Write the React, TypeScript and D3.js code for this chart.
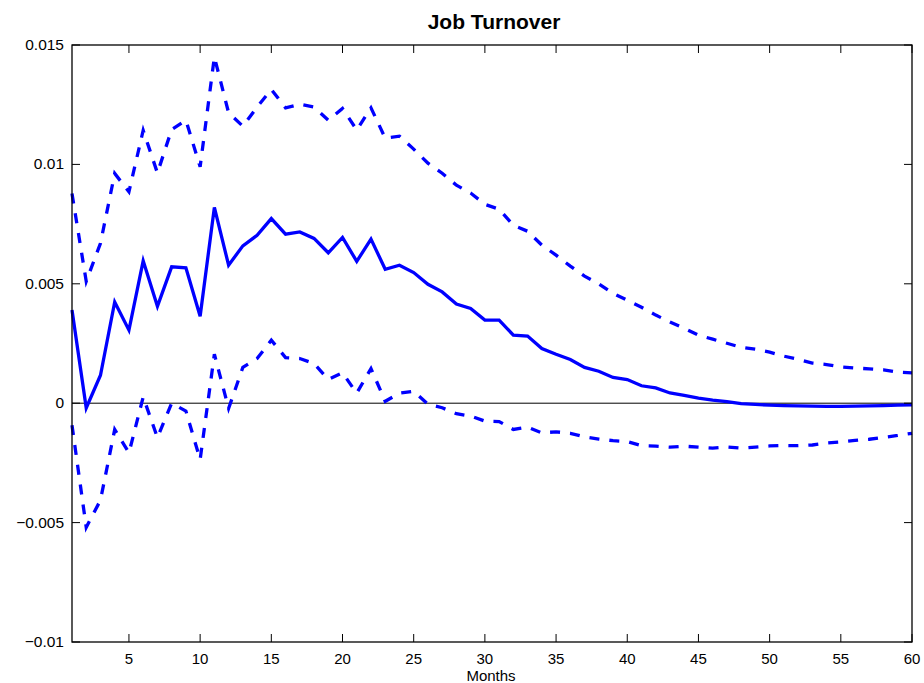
import React from "react";
import * as d3 from "d3";

// Impulse response of job turnover (months 1..60) with confidence bands
const months: number[] = Array.from({ length: 60 }, (_, i) => i + 1);

const response: number[] = [
  0.0039, -0.0002, 0.00117, 0.00424, 0.00306, 0.00596, 0.00406, 0.00571, 0.00567, 0.00364,
  0.0082, 0.00578, 0.00659, 0.00703, 0.00773, 0.00708, 0.00717, 0.0069, 0.0063, 0.00694,
  0.00594, 0.00687, 0.00561, 0.00578, 0.00547, 0.00498, 0.00466, 0.00415, 0.00397, 0.00348,
  0.00348, 0.00285, 0.00281, 0.00229, 0.00205, 0.00183, 0.0015, 0.00134, 0.00108, 0.00099,
  0.00073, 0.00064, 0.00043, 0.00033, 0.00021, 0.00013, 0.00007, -0.00002, -0.00005, -0.00008,
  -0.0001, -0.00011, -0.00012, -0.00013, -0.00013, -0.00012, -0.00011, -0.0001, -0.00008, -0.00007,
];

const upperBand: number[] = [
  0.00878, 0.0051, 0.0067, 0.00962, 0.00885, 0.01143, 0.00964, 0.01146, 0.01185, 0.0099,
  0.0145, 0.01216, 0.0116, 0.0124, 0.01314, 0.01237, 0.01252, 0.0124, 0.01185, 0.01234,
  0.01144, 0.01237, 0.0111, 0.01118, 0.01064, 0.01005, 0.00963, 0.00913, 0.0088, 0.00833,
  0.00812, 0.00745, 0.0072, 0.00662, 0.0062, 0.00574, 0.00532, 0.005, 0.0046, 0.00431,
  0.00402, 0.00369, 0.0034, 0.00314, 0.00285, 0.00268, 0.00251, 0.00234, 0.00226, 0.00214,
  0.00197, 0.00184, 0.00168, 0.00162, 0.00152, 0.00147, 0.00144, 0.0014, 0.0013, 0.00127,
];

const lowerBand: number[] = [
  -0.00092, -0.0052, -0.00406, -0.0011, -0.00208, 0.00026, -0.00144, 0.0, -0.00033, -0.00236,
  0.00205, -0.00022, 0.0015, 0.00187, 0.00264, 0.00191, 0.00187, 0.00166, 0.00099, 0.00127,
  0.00042, 0.00145, 0.00008, 0.00042, 0.0005, -0.00004, -0.00019, -0.00044, -0.00054, -0.00075,
  -0.00077, -0.0011, -0.001, -0.00124, -0.0012, -0.00126, -0.00141, -0.0015, -0.00157, -0.00161,
  -0.00178, -0.0018, -0.00184, -0.0018, -0.00184, -0.00188, -0.00183, -0.00188, -0.00184, -0.00179,
  -0.00177, -0.00178, -0.00175, -0.00167, -0.00162, -0.00156, -0.00151, -0.00143, -0.00135, -0.00126,
];

const xTicks: number[] = [5, 10, 15, 20, 25, 30, 35, 40, 45, 50, 55, 60];
const yTicks: number[] = [0.015, 0.01, 0.005, 0, -0.005, -0.01];
const yTickLabels: string[] = ["0.015", "0.01", "0.005", "0", "\u22120.005", "\u22120.01"];

const W = 924;
const H = 683;
const left = 72;
const right = 912;
const top = 45;
const bottom = 642;
const tickLen = 8;
const font = "'Liberation Sans', Arial, Helvetica, sans-serif";
const blue = "#0000ff";

export default function App() {
  const x = d3.scaleLinear().domain([1, 60]).range([left, right]);
  const y = d3.scaleLinear().domain([-0.01, 0.015]).range([bottom, top]);

  const line = (vals: number[]) =>
    d3
      .line<number>()
      .x((_, i) => x(months[i]))
      .y((d) => y(d))(vals) || "";

  return (
    <svg
      width={W}
      height={H}
      style={{ position: "absolute", left: 0, top: 0, background: "#fff" }}
    >
      <rect x={0} y={0} width={W} height={H} fill="#fff" />
      <text
        x={494}
        y={29}
        textAnchor="middle"
        fontFamily={font}
        fontWeight="bold"
        fontSize={21}
        fill="#000"
      >
        Job Turnover
      </text>

      {/* zero reference line */}
      <line x1={left} x2={right} y1={y(0)} y2={y(0)} stroke="#000" strokeWidth={1} />

      {/* series */}
      <path d={line(upperBand)} fill="none" stroke={blue} strokeWidth={3.3} strokeDasharray="10,10" />
      <path d={line(lowerBand)} fill="none" stroke={blue} strokeWidth={3.3} strokeDasharray="10,10" />
      <path d={line(response)} fill="none" stroke={blue} strokeWidth={3.3} strokeLinejoin="miter" />

      {/* axes box */}
      <rect x={left} y={top} width={right - left} height={bottom - top} fill="none" stroke="#000" strokeWidth={1.3} />

      {xTicks.map((t) => (
        <g key={`x${t}`}>
          <line x1={x(t)} x2={x(t)} y1={bottom} y2={bottom - tickLen} stroke="#000" strokeWidth={1} />
          <line x1={x(t)} x2={x(t)} y1={top} y2={top + tickLen} stroke="#000" strokeWidth={1} />
          <text
            x={x(t)}
            y={bottom + 22}
            textAnchor="middle"
            fontFamily={font}
            fontSize={15}
            fill="#000"
          >
            {t}
          </text>
        </g>
      ))}

      {yTicks.map((t, i) => (
        <g key={`y${t}`}>
          <line x1={left} x2={left + tickLen} y1={y(t)} y2={y(t)} stroke="#000" strokeWidth={1} />
          <line x1={right} x2={right - tickLen} y1={y(t)} y2={y(t)} stroke="#000" strokeWidth={1} />
          <text
            x={left - 8}
            y={y(t) + 5}
            textAnchor="end"
            fontFamily={font}
            fontSize={15.5}
            fill="#000"
          >
            {yTickLabels[i]}
          </text>
        </g>
      ))}

      <text
        x={491}
        y={681}
        textAnchor="middle"
        fontFamily={font}
        fontSize={15}
        fill="#000"
      >
        Months
      </text>
    </svg>
  );
}
